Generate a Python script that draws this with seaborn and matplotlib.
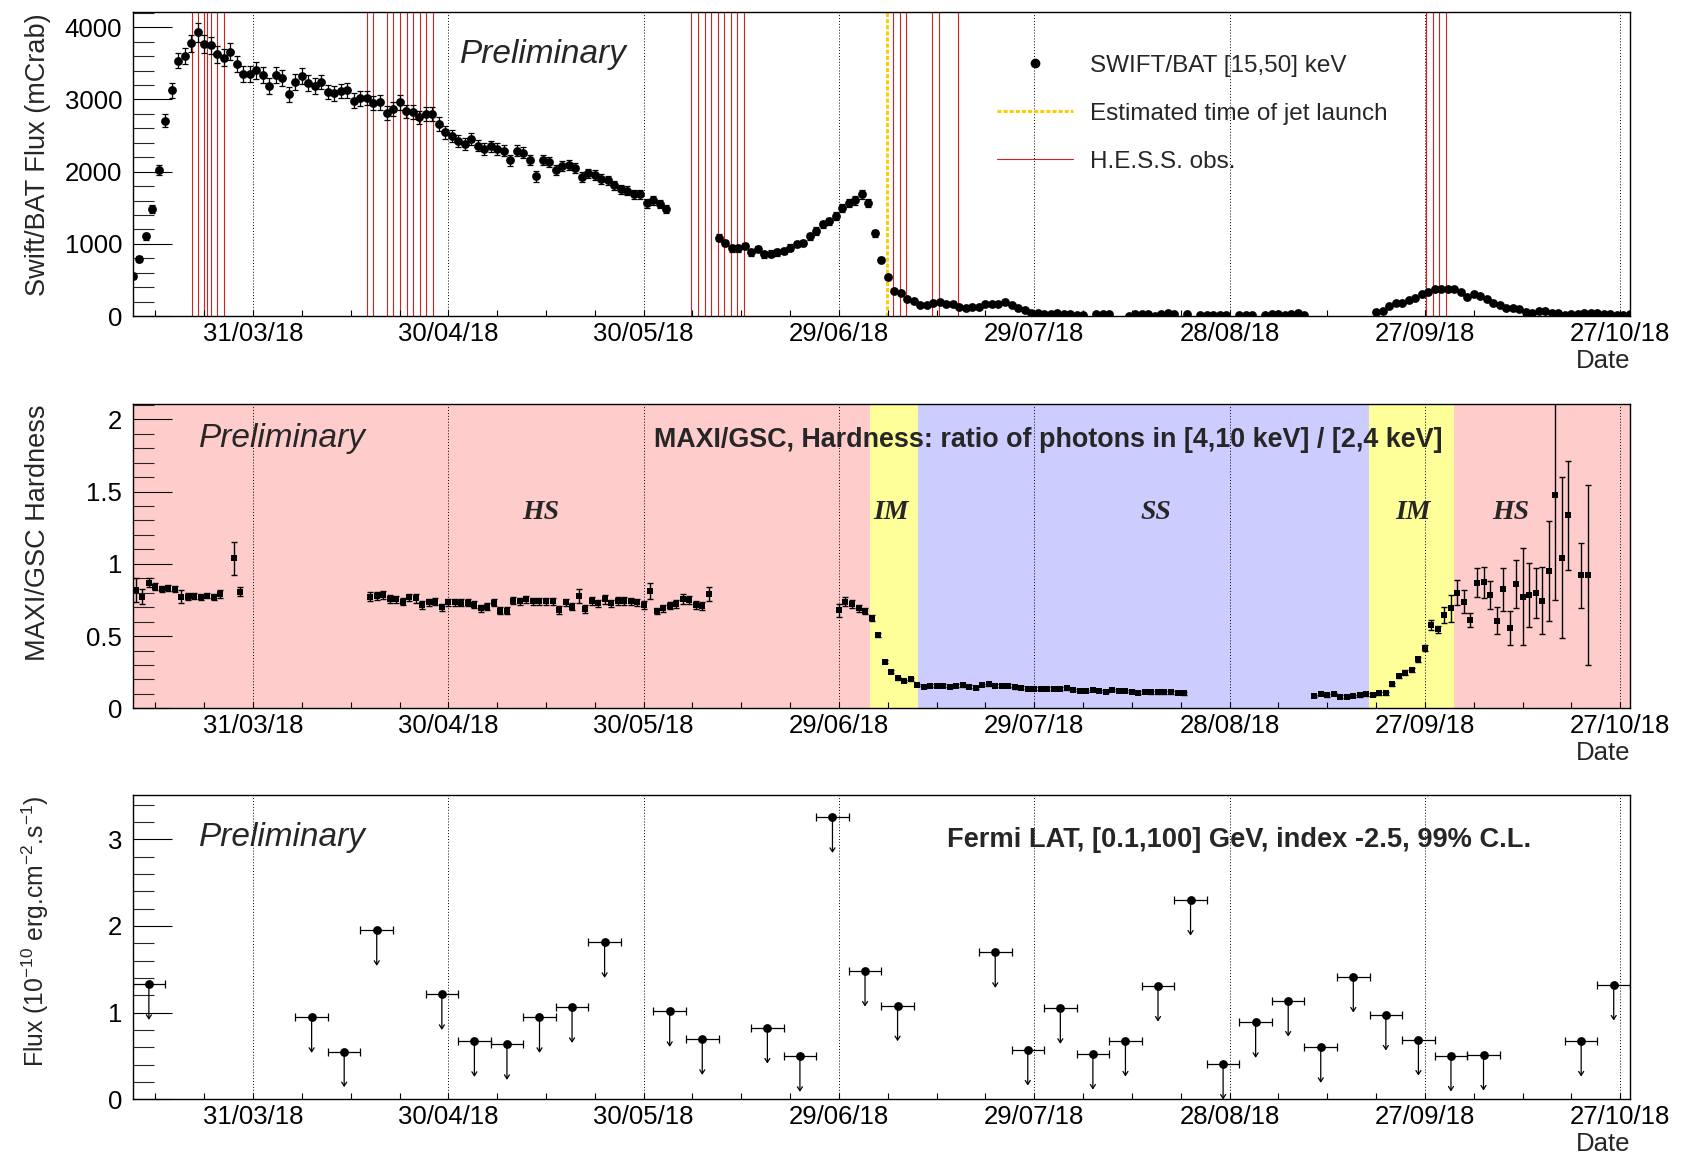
import numpy as np
import pandas as pd
import matplotlib
matplotlib.use("Agg")
import matplotlib.pyplot as plt
from matplotlib.lines import Line2D
from matplotlib.ticker import FixedLocator, MultipleLocator, FuncFormatter
import seaborn as sns

sns.set_theme(style="ticks")
plt.rcParams["font.family"] = ["Liberation Sans", "DejaVu Sans"]
plt.rcParams["mathtext.fontset"] = "custom"
plt.rcParams["mathtext.rm"] = "Liberation Sans"
plt.rcParams["mathtext.it"] = "Liberation Sans:italic"
plt.rcParams["mathtext.bf"] = "Liberation Sans:bold"
plt.rcParams["mathtext.default"] = "regular"

# ---------------- data (x = days since 31/03/2018) ----------------
date_ticks = [0, 30, 60, 90, 120, 150, 180, 210]
date_labels = ["31/03/18", "30/04/18", "30/05/18", "29/06/18",
               "29/07/18", "28/08/18", "27/09/18", "27/10/18"]
x_min, x_max = -18.5, 211.5

# SWIFT/BAT daily flux (mCrab)
swift_a_start = -18.5
swift_a_flux = [554, 790, 1104, 1478, 2018, 2706, 3126, 3537, 3607, 3777,
                3930, 3764, 3750, 3625, 3579, 3662, 3491, 3357, 3353, 3403,
                3339, 3182, 3339, 3302, 3071, 3246, 3325, 3228, 3186, 3246,
                3103, 3085, 3117, 3126, 2983, 3016, 3020, 2951, 2960, 2808,
                2868, 2960, 2835, 2826, 2752, 2803, 2798, 2660, 2549, 2494,
                2429, 2383, 2448, 2360, 2314, 2351, 2314, 2291, 2157, 2291,
                2263, 2161, 1935, 2161, 2129, 2018, 2083, 2092, 2046, 1926,
                1977, 1953, 1898, 1880, 1810, 1755, 1736, 1686, 1686, 1561,
                1602, 1552, 1482]
swift_a_err = [40, 45, 50, 55, 70, 90, 100, 105, 110, 120,
               130, 125, 120, 115, 115, 115, 110, 110, 110, 115,
               110, 110, 110, 110, 105, 110, 110, 105, 105, 100,
               100, 100, 100, 105, 100, 100, 100, 100, 100, 95,
               95, 100, 95, 95, 95, 95, 95, 95, 90, 85,
               85, 80, 85, 80, 80, 80, 80, 75, 75, 75,
               75, 75, 75, 70, 70, 70, 70, 70, 70, 70,
               65, 65, 65, 65, 65, 60, 60, 60, 60, 60,
               60, 60, 55]
swift_b_start = 71.5
swift_b_flux = [1085, 1011, 937, 937, 970, 882, 928, 854, 864, 882,
                900, 947, 997, 1011, 1104, 1178, 1270, 1312, 1385, 1492,
                1570, 1602, 1686, 1561, 1145, 780, 540, 351, 319, 236,
                203, 157, 157, 185, 194, 166, 166, 129, 111, 120,
                125, 166, 166, 166, 194, 152, 106, 83]
swift_b_err = [45, 45, 45, 45, 45, 45, 45, 45, 45, 45,
               45, 45, 45, 45, 50, 50, 50, 50, 55, 55,
               55, 60, 60, 55, 45, 35, 30, 25, 25, 25,
               25, 25, 25, 25, 25, 25, 25, 25, 25, 25,
               25, 25, 25, 25, 25, 25, 25, 25]
swift_c_day = [119.5, 120.5, 121.5, 122.5, 123.5, 124.5, 125.5, 126.5, 127.5,
               129.5, 130.5, 131.5,
               134.5, 135.5, 136.5, 137.5, 138.5, 139.5, 140.5, 141.5,
               143.5,
               145.5, 146.5, 147.5, 148.5, 149.5,
               151.5, 152.5, 153.5,
               155.5, 156.5, 157.5, 158.5, 159.5, 160.5, 161.5]
swift_c_flux = [37, 37, 32, 28, 37, 28, 23, 18, 14,
                28, 28, 28,
                5, 23, 28, 23, 5, 28, 37, 28,
                32,
                9, 9, 14, 14, 14,
                14, 14, 14,
                14, 28, 23, 14, 32, 37, 14]
swift_c_err = [15, 15, 15, 15, 15, 15, 15, 15, 15,
               15, 15, 15,
               15, 15, 15, 15, 15, 15, 15, 15,
               15,
               15, 15, 15, 15, 15,
               15, 15, 15,
               15, 15, 15, 15, 15, 15, 15]
swift_d_start = 172.5
swift_d_flux = [51, 65, 139, 185, 180, 222, 249, 300, 332, 369,
                374, 379, 369, 328, 268, 309, 277, 231, 175, 148,
                106, 106, 92, 60, 46, 65, 74, 46, 37, 9,
                23, 32, 37, 46, 37, 28, 23, 14, 9, 28]
swift_d_err = [20, 20, 20, 20, 20, 20, 20, 20, 20, 20,
               20, 20, 20, 20, 20, 20, 20, 20, 20, 20,
               15, 15, 15, 15, 15, 15, 15, 15, 15, 15,
               15, 15, 15, 15, 15, 15, 15, 15, 15, 15]

hess_obs_day = [-9.45, -8.4, -7.5, -7.1, -6.4, -5.5, -4.4,
                17.5, 18.5, 20.6, 21.5, 22.6, 23.6, 24.5, 25.6, 26.6, 27.6,
                67.3, 68.4, 69.4, 70.4, 71.4, 72.4, 73.4, 74.4, 75.4,
                98.3, 99.4, 100.3, 104.3, 105.4, 108.3,
                180.1, 181.2, 182.2, 183.3]
jet_launch_day = 97.4

# MAXI/GSC hardness ratio (daily)
hard_a_start = -18
hard_a = [0.819, 0.773, 0.870, 0.842, 0.824, 0.833, 0.828, 0.773, 0.773, 0.777,
          0.773, 0.780, 0.773, 0.791]
hard_a_err = [0.085, 0.05, 0.03, 0.025, 0.02, 0.02, 0.02, 0.045, 0.025, 0.02,
              0.02, 0.02, 0.02, 0.03]
hard_b_start = -3
hard_b = [1.038, 0.807]
hard_b_err = [0.113, 0.03]
hard_c_start = 18
hard_c = [0.773, 0.777, 0.784, 0.757, 0.754, 0.738, 0.768, 0.761, 0.715, 0.734,
          0.738, 0.699, 0.734, 0.734, 0.731, 0.731, 0.717, 0.692, 0.704, 0.731,
          0.676, 0.676, 0.745, 0.740, 0.754, 0.740, 0.740, 0.740, 0.740, 0.680,
          0.734, 0.704, 0.777, 0.687, 0.743, 0.727, 0.754, 0.727, 0.743, 0.743,
          0.740, 0.734, 0.715, 0.812, 0.674, 0.692, 0.711, 0.722, 0.754, 0.750,
          0.715, 0.708, 0.791]
hard_c_err = [0.03, 0.025, 0.03, 0.025, 0.025, 0.025, 0.025, 0.03, 0.025, 0.025,
              0.025, 0.025, 0.025, 0.025, 0.025, 0.025, 0.025, 0.025, 0.025, 0.025,
              0.025, 0.025, 0.025, 0.025, 0.025, 0.025, 0.025, 0.025, 0.025, 0.025,
              0.025, 0.025, 0.05, 0.025, 0.025, 0.025, 0.03, 0.025, 0.03, 0.03,
              0.025, 0.025, 0.025, 0.055, 0.02, 0.025, 0.025, 0.03, 0.035, 0.03,
              0.03, 0.03, 0.05]
hard_d_start = 90
hard_d = [0.680, 0.738, 0.722, 0.692, 0.676, 0.623, 0.508, 0.323, 0.254, 0.208,
          0.189, 0.200, 0.161, 0.150, 0.155, 0.155, 0.157, 0.150, 0.155, 0.159,
          0.150, 0.143, 0.161, 0.166, 0.157, 0.157, 0.155, 0.145, 0.141, 0.136,
          0.134, 0.136, 0.136, 0.134, 0.134, 0.138, 0.127, 0.120, 0.120, 0.127,
          0.120, 0.113, 0.127, 0.120, 0.120, 0.115, 0.108, 0.115, 0.111, 0.111,
          0.111, 0.111, 0.108, 0.104]
hard_d_err = [0.045, 0.03, 0.025, 0.025, 0.02, 0.02, 0.015, 0.012, 0.012, 0.01,
              0.01, 0.01, 0.01, 0.01, 0.01, 0.01, 0.01, 0.01, 0.01, 0.01,
              0.01, 0.01, 0.01, 0.01, 0.01, 0.01, 0.01, 0.01, 0.01, 0.01,
              0.01, 0.01, 0.01, 0.01, 0.01, 0.01, 0.01, 0.01, 0.01, 0.01,
              0.01, 0.01, 0.01, 0.01, 0.01, 0.01, 0.01, 0.01, 0.01, 0.01,
              0.01, 0.01, 0.01, 0.01]
hard_e_start = 163
hard_e = [0.085, 0.099, 0.090, 0.099, 0.081, 0.081, 0.085, 0.090, 0.097, 0.095,
          0.104, 0.104, 0.166, 0.224, 0.247, 0.265, 0.339, 0.420, 0.577, 0.547,
          0.646, 0.692, 0.800, 0.738, 0.611, 0.870, 0.872, 0.784, 0.607, 0.824,
          0.556, 0.860, 0.773, 0.784, 0.800, 0.745, 0.950, 1.474, 1.043, 1.336]
hard_e_err = [0.01, 0.01, 0.01, 0.01, 0.01, 0.01, 0.01, 0.01, 0.01, 0.01,
              0.01, 0.01, 0.012, 0.015, 0.015, 0.015, 0.018, 0.02, 0.035, 0.025,
              0.058, 0.092, 0.088, 0.081, 0.051, 0.098, 0.106, 0.10, 0.092, 0.150,
              0.118, 0.168, 0.338, 0.221, 0.173, 0.231, 0.346, 0.724, 0.557, 0.376]
hard_f_start = 204
hard_f = [0.920, 0.920]
hard_f_err = [0.226, 0.623]

state_edges = [-18.5, 94.8, 102.1, 171.4, 184.4, 211.5]
state_names = ["HS", "IM", "SS", "IM", "HS"]
state_label_day = [44.2, 98.0, 138.7, 178.1, 193.2]

# Fermi-LAT 99% C.L. upper limits, 5-day bins
fermi_day = [-16, 9, 14, 19, 29, 34, 39, 44, 49, 54, 64, 69, 79, 84, 89, 94, 99,
             114, 119, 124, 129, 134, 139, 144, 149, 154, 159, 164, 169, 174,
             179, 184, 189, 204, 209]
fermi_ul = [1.327, 0.946, 0.55, 1.95, 1.211, 0.669, 0.634, 0.946, 1.061, 1.811,
            1.015, 0.692, 0.823, 0.496, 3.253, 1.48, 1.08, 1.696, 0.569, 1.05,
            0.522, 0.673, 1.307, 2.299, 0.407, 0.888, 1.134, 0.6, 1.411, 0.973,
            0.684, 0.5, 0.511, 0.673, 1.319]
fermi_half_bin = 2.5

# ---------------- assemble tables ----------------
def daily(start, vals):
    return start + np.arange(len(vals))

swift = pd.DataFrame({
    "day": np.concatenate([daily(swift_a_start, swift_a_flux), daily(swift_b_start, swift_b_flux),
                           swift_c_day, daily(swift_d_start, swift_d_flux)]),
    "flux": np.concatenate([swift_a_flux, swift_b_flux, swift_c_flux, swift_d_flux]),
    "err": np.concatenate([swift_a_err, swift_b_err, swift_c_err, swift_d_err]),
})
hard = pd.DataFrame({
    "day": np.concatenate([daily(hard_a_start, hard_a), daily(hard_b_start, hard_b),
                           daily(hard_c_start, hard_c), daily(hard_d_start, hard_d),
                           daily(hard_e_start, hard_e), daily(hard_f_start, hard_f)]),
    "ratio": np.concatenate([hard_a, hard_b, hard_c, hard_d, hard_e, hard_f]),
    "err": np.concatenate([hard_a_err, hard_b_err, hard_c_err, hard_d_err, hard_e_err, hard_f_err]),
})
fermi = pd.DataFrame({"day": fermi_day, "ul": fermi_ul})

# ---------------- figure ----------------
fig = plt.figure(figsize=(16.98, 11.74), dpi=100)
ax1 = fig.add_axes([0.07809, 0.73083, 0.88186, 0.25869])
ax2 = fig.add_axes([0.07809, 0.39668, 0.88186, 0.25894])
ax3 = fig.add_axes([0.07809, 0.06363, 0.88186, 0.25920])

TICK_FS = 18.5
LABEL_FS = 19.5
fmt_g = FuncFormatter(lambda v, p: "%g" % v)

def style_axes(ax, ymax, ymajor, yminor):
    ax.set_xlim(x_min, x_max)
    ax.set_ylim(0, ymax)
    ax.xaxis.set_major_locator(FixedLocator(date_ticks))
    ax.set_xticklabels(date_labels)
    ax.xaxis.set_minor_locator(FixedLocator(np.arange(-15, 212, 7.5)))
    ax.yaxis.set_major_locator(MultipleLocator(ymajor))
    ax.yaxis.set_minor_locator(MultipleLocator(yminor))
    ax.yaxis.set_major_formatter(fmt_g)
    ax.tick_params(axis="y", which="major", direction="in", length=28.4, width=0.8,
                   pad=7.5, labelsize=TICK_FS, right=False, colors="black")
    ax.tick_params(axis="y", which="minor", direction="in", length=14.8, width=0.8, right=False)
    ax.tick_params(axis="x", which="both", direction="in", length=4.3, width=0.8,
                   pad=4.0, labelsize=TICK_FS, top=False, colors="black")
    for s in ax.spines.values():
        s.set_color("black")
        s.set_linewidth(1.0)
    ax.xaxis.grid(True, which="major", color="black", linestyle=(0, (1, 2)), linewidth=0.7)
    ax.yaxis.grid(False)
    ax.set_axisbelow(False)
    ax.set_xlabel("Date", fontsize=TICK_FS, loc="right")
    ax.xaxis.set_label_coords(1.0, -0.108)

# ---- top panel: Swift/BAT ----
style_axes(ax1, 4208, 1000, 200)
for d in hess_obs_day:
    ax1.axvline(d, color="#d42020", linewidth=0.8, zorder=1)
ax1.axvline(jet_launch_day, color="#ffcc00", linewidth=2.2, linestyle=(0, (1.3, 0.7)), zorder=2)
ax1.errorbar(swift["day"], swift["flux"], yerr=swift["err"], fmt="none", ecolor="black",
             elinewidth=0.9, capsize=2.5, capthick=0.9, zorder=3)
sns.scatterplot(data=swift, x="day", y="flux", ax=ax1, color="black", s=40,
                linewidth=0, marker="o", zorder=4, legend=False)
ax1.set_ylabel("Swift/BAT Flux (mCrab)", fontsize=LABEL_FS, loc="top")
ax1.yaxis.set_label_coords(-0.0547, 0.995)
ax1.text(0.2186, 0.832, "Preliminary", transform=ax1.transAxes, fontsize=24,
         style="italic", ha="left", va="baseline")
handles = [Line2D([], [], marker="o", color="black", linestyle="none", markersize=6),
           Line2D([], [], color="#ffcc00", linewidth=2.2, linestyle=(0, (1.3, 0.7))),
           Line2D([], [], color="#d42020", linewidth=0.8)]
ax1.legend(handles, ["SWIFT/BAT [15,50] keV", "Estimated time of jet launch", "H.E.S.S. obs."],
           loc="upper left", bbox_to_anchor=(0.5775, 0.86), frameon=False, fontsize=17.5,
           handlelength=3.1, handletextpad=0.73, labelspacing=1.07, borderpad=0,
           borderaxespad=0)

# ---- middle panel: MAXI/GSC hardness ----
style_axes(ax2, 2.104, 0.5, 0.1)
state_colors = {"HS": "#ffcccc", "IM": "#ffff99", "SS": "#ccccff"}
for i, name in enumerate(state_names):
    ax2.axvspan(state_edges[i], state_edges[i + 1], color=state_colors[name], linewidth=0, zorder=0)
    ax2.text(state_label_day[i], 0.6217, name, transform=ax2.get_xaxis_transform(),
             fontfamily="Liberation Serif", fontweight="bold", style="italic",
             fontsize=20, ha="center", va="baseline")
ax2.errorbar(hard["day"], hard["ratio"], yerr=hard["err"], fmt="none", ecolor="black",
             elinewidth=1.0, capsize=2.4, capthick=1.0, zorder=3)
sns.scatterplot(data=hard, x="day", y="ratio", ax=ax2, color="black", s=15,
                linewidth=0, marker="s", zorder=4, legend=False)
ax2.set_ylabel("MAXI/GSC Hardness", fontsize=LABEL_FS, loc="top")
ax2.yaxis.set_label_coords(-0.0547, 1.0)
ax2.text(0.0443, 0.8605, "Preliminary", transform=ax2.transAxes, fontsize=24,
         style="italic", ha="left", va="baseline")
ax2.text(0.3482, 0.8605, "MAXI/GSC, Hardness: ratio of photons in [4,10 keV] / [2,4 keV]",
         transform=ax2.transAxes, fontsize=19.4, fontweight="bold", ha="left", va="baseline")

# ---- bottom panel: Fermi-LAT upper limits ----
style_axes(ax3, 3.511, 1, 0.2)
ax3.errorbar(fermi["day"], fermi["ul"], xerr=fermi_half_bin, fmt="none", ecolor="black",
             elinewidth=0.9, capsize=3, capthick=0.9, zorder=3)
for d, v in zip(fermi["day"], fermi["ul"]):
    ax3.annotate("", xy=(d, v - 0.41), xytext=(d, v), xycoords="data", textcoords="data",
                 arrowprops=dict(arrowstyle="->,head_length=0.28,head_width=0.18",
                                 color="black", lw=0.9, shrinkA=0, shrinkB=0,
                                 mutation_scale=10), zorder=3)
sns.scatterplot(data=fermi, x="day", y="ul", ax=ax3, color="black", s=40,
                linewidth=0, marker="o", zorder=4, legend=False)
ax3.set_ylabel("Flux (10$^{-10}$ erg.cm$^{-2}$.s$^{-1}$)", fontsize=17.8, loc="top")
ax3.yaxis.set_label_coords(-0.0547, 1.0)
ax3.text(0.0443, 0.8324, "Preliminary", transform=ax3.transAxes, fontsize=24,
         style="italic", ha="left", va="baseline")
ax3.text(0.5439, 0.830, "Fermi LAT, [0.1,100] GeV, index -2.5, 99% C.L.",
         transform=ax3.transAxes, fontsize=19.6, fontweight="bold", ha="left", va="baseline")

fig.savefig("out.png", dpi=100, facecolor="white")
